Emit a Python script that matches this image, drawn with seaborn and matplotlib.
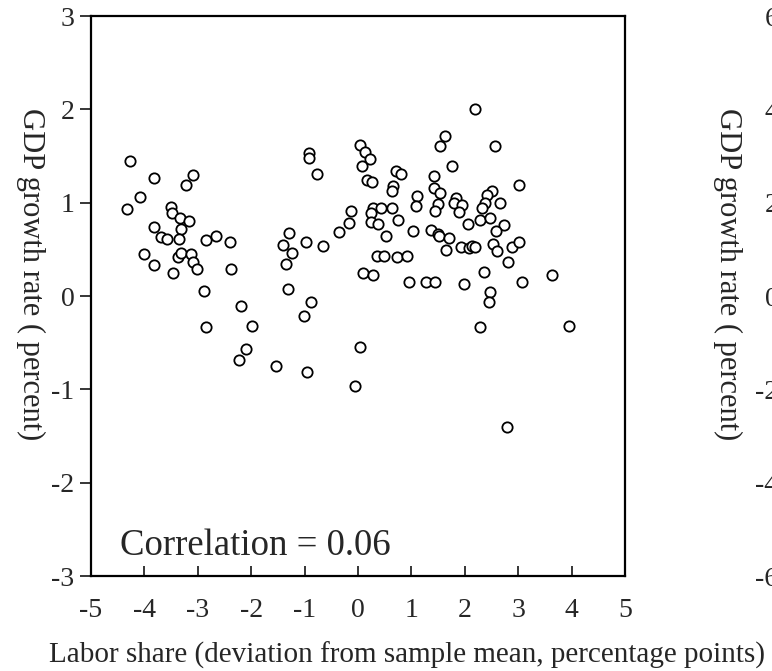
import pandas as pd
import seaborn as sns
import matplotlib
matplotlib.use('Agg')
import matplotlib.pyplot as plt

# labor share deviation (pp) vs GDP growth (percent)
labor_share = [
    -4.27, -3.82, -3.09, -3.22, -4.09, -4.32, -3.51, -3.49, -3.34, -3.17,
    -3.31, -3.82, -3.69, -3.57, -3.36, -2.84, -2.66, -2.39, -4.00, -3.82,
    -3.37, -3.31, -3.12, -3.09, -3.01, -3.47, -2.38, -2.89, -2.20, -2.84,
    -1.98, -2.09, -2.22, -1.54, -0.95, -0.06, -1.32, -1.01, -0.88, -1.34,
    -1.41, -1.30, -1.23, -0.98, -0.65, -0.35, -0.17, -0.14, -0.92, -0.92,
    -0.76, 0.03, 0.10, 0.04,
    0.14, 0.23, 0.08, 0.17, 0.27, 0.72, 0.81, 0.65, 0.63, 1.11,
    1.08, 1.43, 1.43, 1.53, 1.62, 1.54, 2.56, 2.20, 1.76, 3.02,
    2.50, 2.41, 2.37, 2.33, 1.84, 1.79, 1.94, 1.49, 1.45, 1.89,
    2.65, 0.28, 0.25, 0.43, 0.64, 0.24, 0.38, 0.75, 0.53, 1.03,
    1.36, 1.49, 1.52, 1.70, 2.06, 2.29, 2.48, 2.73, 2.59, 1.64,
    1.92, 2.07, 2.14, 2.20, 2.53, 2.61, 2.89, 3.01, 2.81, 0.36,
    0.48, 0.73, 0.92, 0.28, 0.96, 1.28, 1.45, 1.98, 2.36, 3.07,
    3.63, 2.48, 2.45, 2.29, 3.95, 2.79,
]
gdp_growth = [
    1.45, 1.26, 1.30, 1.19, 1.06, 0.93, 0.95, 0.89, 0.84, 0.80,
    0.72, 0.74, 0.63, 0.61, 0.61, 0.60, 0.64, 0.58, 0.45, 0.33,
    0.42, 0.46, 0.45, 0.36, 0.29, 0.25, 0.29, 0.05, -0.11, -0.33,
    -0.32, -0.57, -0.69, -0.75, -0.81, -0.96, 0.075, -0.21, -0.06, 0.34,
    0.55, 0.68, 0.46, 0.58, 0.54, 0.69, 0.78, 0.91, 1.53, 1.48,
    1.31, 1.62, 0.25, -0.55,
    1.54, 1.47, 1.39, 1.24, 1.22, 1.34, 1.31, 1.18, 1.12, 1.07,
    0.96, 1.29, 1.16, 1.10, 1.71, 1.61, 1.61, 2.00, 1.39, 1.19,
    1.13, 1.08, 1.00, 0.94, 1.05, 1.00, 0.98, 0.99, 0.91, 0.90,
    1.00, 0.94, 0.89, 0.94, 0.94, 0.79, 0.77, 0.81, 0.64, 0.70,
    0.71, 0.66, 0.64, 0.62, 0.77, 0.81, 0.84, 0.76, 0.70, 0.49,
    0.53, 0.51, 0.54, 0.52, 0.56, 0.48, 0.53, 0.58, 0.36, 0.43,
    0.43, 0.42, 0.43, 0.22, 0.15, 0.15, 0.15, 0.125, 0.26, 0.15,
    0.22, 0.04, -0.06, -0.33, -0.32, -1.40,
]
x_ticks = [-5, -4, -3, -2, -1, 0, 1, 2, 3, 4, 5]
y_ticks = [-3, -2, -1, 0, 1, 2, 3]
y_ticks_right = [-6, -4, -2, 0, 2, 4, 6]
correlation_label = 'Correlation = 0.06'
y_label = 'GDP growth rate ( percent)'

df = pd.DataFrame({'labor': labor_share, 'gdp': gdp_growth})

sns.set_style('white')
plt.rcParams['font.family'] = ['Liberation Serif', 'DejaVu Serif']
plt.rcParams['axes.unicode_minus'] = False

fig = plt.figure(figsize=(7.72, 6.71), dpi=100)
ax = fig.add_axes([91 / 772, 95 / 671, 534 / 772, 560 / 671])
# second panel mostly outside the picture, only its y labels show
ax2 = fig.add_axes([795 / 772, 95 / 671, 534 / 772, 560 / 671])

sns.scatterplot(data=df, x='labor', y='gdp', ax=ax, s=55, marker='o',
                facecolor='white', edgecolor='black', linewidth=1.3, zorder=3)

ax.set_xlim(-5, 5)
ax.set_ylim(-3, 3)
ax.set_xticks(x_ticks)
ax.set_yticks(y_ticks)
ax.tick_params(axis='x', direction='in', length=7, width=1.3, pad=16,
               labelsize=20, bottom=True, top=False)
ax.tick_params(axis='y', direction='out', length=8, width=1.3, pad=4,
               labelsize=20, left=True, right=False)
for sp in ax.spines.values():
    sp.set_color('black')
    sp.set_linewidth(1.6)
    sp.set_visible(True)

ax.set_xlabel('Labor share (deviation from sample mean, percentage points)', fontsize=21)
ax.xaxis.set_label_coords(0.592, -0.118)
ax.set_ylabel(y_label, fontsize=22, rotation=-90, va='center', ha='center')
ax.yaxis.set_label_coords(-0.114, 0.539)
ax.text(-4.45, -2.78, correlation_label, fontsize=26.5, ha='left', va='baseline')

ax2.set_ylim(-6, 6)
ax2.set_yticks(y_ticks_right)
ax2.set_xticks([])
ax2.tick_params(axis='y', direction='out', length=8, width=1.3, pad=4,
                labelsize=20, left=True, right=False)
for sp in ax2.spines.values():
    sp.set_color('black')
    sp.set_linewidth(1.6)
ax2.set_ylabel(y_label, fontsize=22, rotation=-90, va='center', ha='center')
ax2.yaxis.set_label_coords(-0.127, 0.539)

fig.savefig('out.png', dpi=100)
